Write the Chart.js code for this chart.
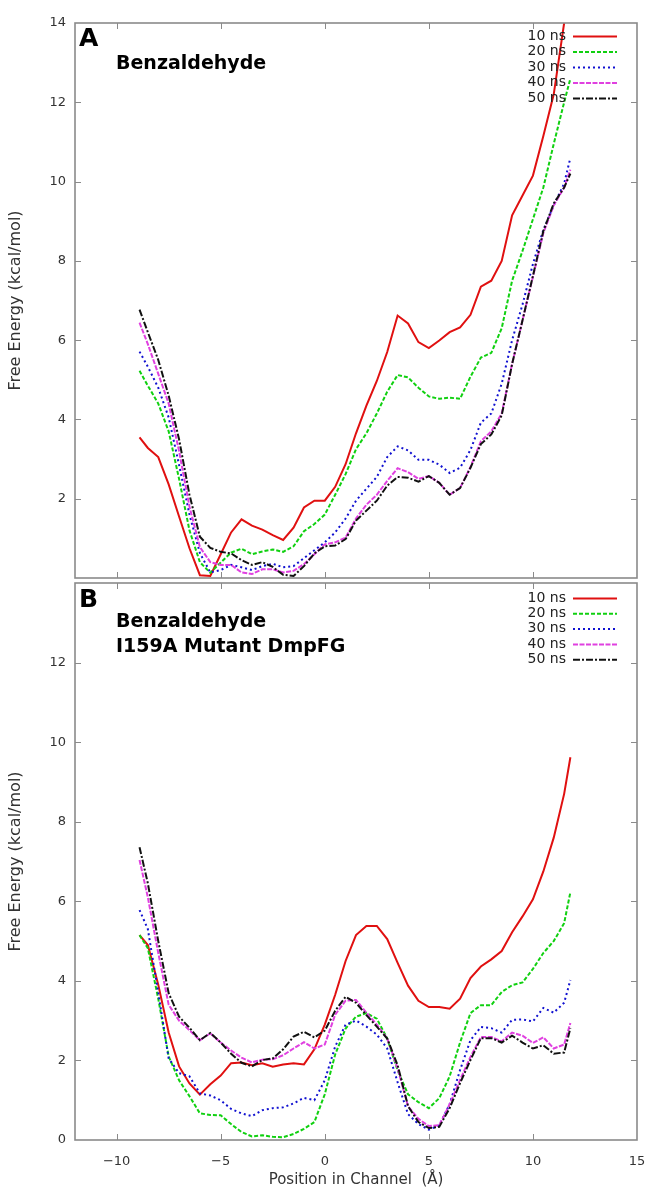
<!DOCTYPE html>
<html><head><meta charset="utf-8">
<script src="https://cdn.jsdelivr.net/npm/chart.js@4.4.1/dist/chart.umd.min.js"></script>
<style>
html,body{margin:0;padding:0;background:#fff;}
#wrap{position:relative;width:649px;height:1190px;overflow:hidden;}
canvas{position:absolute;left:0;}
</style></head><body>
<div id="wrap">
<canvas id="cA" width="649" height="580" style="top:0;width:649px;height:580px"></canvas>
<canvas id="cB" width="649" height="610" style="top:580px;width:649px;height:610px"></canvas>
</div>
<script>
// ---- data ----
const positions = [-8.9,-8.5,-8,-7.5,-7,-6.5,-6,-5.5,-5,-4.5,-4,-3.5,-3,-2.5,-2,-1.5,-1,-0.5,
  0,0.5,1,1.5,2,2.5,3,3.5,4,4.5,5,5.5,6,6.5,7,7.5,8,8.5,9,9.5,10,10.5,11,11.5,11.8];
const seriesLabels = ['10 ns','20 ns','30 ns','40 ns','50 ns'];
const xTickValues = [-10,-5,0,5,10,15];
const yTickValues = [0,2,4,6,8,10,12,14];

// Panel A: Benzaldehyde (wild type)
const wt10 = [3.55,3.28,3.05,2.36,1.55,0.75,0.07,0.05,0.6,1.15,1.48,1.32,1.22,1.08,0.96,1.27,1.78,1.95,
  1.95,2.3,2.87,3.65,4.35,4.97,5.7,6.62,6.42,5.95,5.8,5.99,6.2,6.32,6.64,7.35,7.5,8.0,9.15,9.65,10.15,11.15,12.2,14.0,15.3];
const wt20 = [5.23,4.85,4.4,3.7,2.5,1.2,0.4,0.13,0.39,0.64,0.74,0.6,0.67,0.72,0.66,0.8,1.18,1.36,
  1.6,2.1,2.62,3.25,3.65,4.15,4.7,5.12,5.06,4.8,4.58,4.52,4.55,4.52,5.08,5.56,5.68,6.3,7.5,8.25,9.05,9.85,10.95,12.0,12.6];
const wt30 = [5.71,5.33,4.8,4.05,2.85,1.6,0.63,0.14,0.2,0.33,0.27,0.2,0.3,0.36,0.27,0.3,0.5,0.7,
  0.9,1.15,1.5,1.95,2.25,2.55,3.05,3.32,3.22,2.98,2.98,2.86,2.65,2.78,3.23,3.92,4.15,4.9,6.0,6.9,7.92,8.78,9.4,9.95,10.6];
const wt40 = [6.44,5.9,5.15,4.4,3.2,1.8,0.78,0.4,0.33,0.33,0.14,0.1,0.22,0.22,0.14,0.18,0.35,0.6,
  0.85,0.9,1.02,1.5,1.85,2.1,2.45,2.77,2.67,2.5,2.57,2.4,2.1,2.27,2.8,3.45,3.7,4.15,5.4,6.5,7.6,8.7,9.4,9.85,10.3];
const wt50 = [6.77,6.2,5.5,4.6,3.5,2.1,1.04,0.76,0.66,0.62,0.45,0.33,0.4,0.28,0.08,0.05,0.3,0.62,
  0.8,0.82,0.98,1.45,1.7,1.95,2.33,2.55,2.53,2.43,2.57,2.4,2.1,2.27,2.78,3.38,3.62,4.1,5.4,6.5,7.62,8.75,9.45,9.85,10.2];

// Panel B: Benzaldehyde, I159A mutant DmpFG
const mu10 = [5.15,4.9,3.9,2.7,1.85,1.42,1.14,1.4,1.62,1.93,1.95,1.88,1.93,1.84,1.9,1.93,1.9,2.28,
  2.9,3.65,4.5,5.15,5.38,5.38,5.05,4.45,3.88,3.5,3.34,3.34,3.3,3.55,4.07,4.36,4.54,4.75,5.22,5.62,6.05,6.75,7.6,8.7,9.62];
const mu20 = [5.15,4.82,3.55,2.1,1.5,1.1,0.67,0.63,0.62,0.4,0.2,0.09,0.12,0.08,0.07,0.15,0.28,0.45,
  1.15,2.15,2.8,3.1,3.19,3.05,2.55,1.75,1.15,0.95,0.8,1.05,1.6,2.45,3.19,3.39,3.39,3.72,3.89,3.96,4.3,4.7,5.0,5.45,6.23];
const mu30 = [5.78,5.3,3.7,2.05,1.68,1.6,1.17,1.12,1.0,0.78,0.67,0.6,0.75,0.8,0.82,0.92,1.06,1.0,
  1.5,2.35,2.9,3.0,2.85,2.65,2.3,1.45,0.65,0.4,0.26,0.37,0.9,1.76,2.51,2.84,2.81,2.7,3.02,3.03,2.98,3.32,3.2,3.45,4.02];
const mu40 = [7.04,6.1,4.7,3.4,3.0,2.76,2.51,2.68,2.45,2.25,2.07,1.95,2.02,2.03,2.13,2.3,2.46,2.3,
  2.4,3.15,3.5,3.52,3.2,2.9,2.55,1.8,0.85,0.53,0.35,0.37,0.9,1.51,2.09,2.59,2.59,2.48,2.7,2.62,2.44,2.58,2.3,2.4,2.94];
const mu50 = [7.36,6.45,5.0,3.69,3.1,2.82,2.51,2.69,2.45,2.17,1.94,1.85,2.01,2.05,2.28,2.6,2.72,2.58,
  2.75,3.25,3.6,3.45,3.14,2.85,2.55,1.88,0.85,0.45,0.3,0.33,0.8,1.43,2.01,2.56,2.56,2.45,2.62,2.45,2.3,2.38,2.17,2.2,2.81];

// ---- styles ----
const lineStyles = [
  {color:'#e01010', dash:[]},
  {color:'#10d010', dash:[4,2]},
  {color:'#1010d0', dash:[2,3]},
  {color:'#e040e0', dash:[5,1.5]},
  {color:'#111111', dash:[7,2,2,2]}
];

const SANS = "'DejaVu Sans', 'Liberation Sans', sans-serif";
Chart.defaults.font.family = SANS;
Chart.defaults.font.size = 13;
Chart.defaults.color = '#333';

const framePlugin = {
  id: 'frame',
  afterDatasetsDraw(chart, args, opts) {
    const {ctx, chartArea: a, scales: {x, y}} = chart;
    ctx.save();
    ctx.setLineDash([]);
    ctx.strokeStyle = '#8a8a8a';
    ctx.lineWidth = 1;
    ctx.beginPath();
    x.ticks.forEach(t => {
      const px = Math.round(x.getPixelForValue(t.value)) + 0.5;
      if (px <= a.left + 2 || px >= a.right - 2) return;
      ctx.moveTo(px, a.bottom); ctx.lineTo(px, a.bottom - 6);
      ctx.moveTo(px, a.top); ctx.lineTo(px, a.top + 6);
    });
    y.ticks.forEach(t => {
      const py = Math.round(y.getPixelForValue(t.value)) + 0.5;
      if (py <= a.top + 2 || py >= a.bottom - 2) return;
      ctx.moveTo(a.left, py); ctx.lineTo(a.left + 6, py);
      ctx.moveTo(a.right, py); ctx.lineTo(a.right - 6, py);
    });
    ctx.stroke();
    ctx.lineWidth = 1.6;
    ctx.strokeRect(a.left, a.top, a.right - a.left, a.bottom - a.top);

    // annotations
    ctx.fillStyle = '#000';
    ctx.textAlign = 'left';
    ctx.textBaseline = 'alphabetic';
    (opts.labels || []).forEach(l => {
      ctx.font = l.font;
      ctx.fillText(l.text, l.x, l.y);
    });

    // legend
    ctx.font = "14px " + SANS;
    ctx.textAlign = 'right';
    ctx.textBaseline = 'middle';
    chart.data.datasets.forEach((ds, i) => {
      const yy = opts.legendY + i * opts.legendDy;
      ctx.fillStyle = '#222';
      ctx.fillText(ds.label, opts.legendTextX, yy);
      ctx.strokeStyle = ds.borderColor;
      ctx.lineWidth = 2;
      ctx.setLineDash(ds.borderDash || []);
      ctx.beginPath();
      ctx.moveTo(opts.legendLineX0, yy + 0.5);
      ctx.lineTo(opts.legendLineX1, yy + 0.5);
      ctx.stroke();
    });
    ctx.restore();
  }
};

function makePanel(canvasId, series, cfg) {
  const datasets = series.map((vals, i) => ({
    label: seriesLabels[i],
    data: positions.map((p, k) => ({x: p, y: vals[k]})),
    borderColor: lineStyles[i].color,
    borderDash: lineStyles[i].dash,
    borderWidth: 2,
    pointRadius: 0,
    tension: 0,
    fill: false,
    order: series.length - 1 - i   // later series drawn on top
  }));
  return new Chart(document.getElementById(canvasId), {
    type: 'line',
    data: {datasets},
    options: {
      responsive: false,
      animation: false,
      events: [],
      layout: {padding: cfg.padding},
      plugins: {
        legend: {display: false},
        tooltip: {enabled: false},
        frame: cfg.frame
      },
      scales: {
        x: {
          type: 'linear',
          min: -12, max: 15,
          afterBuildTicks: s => { s.ticks = xTickValues.map(v => ({value: v})); },
          afterFit: s => { s.height = cfg.xHeight; s.paddingLeft = 0; s.paddingRight = 0; },
          grid: {display: false, drawTicks: false},
          border: {display: false},
          ticks: {display: cfg.showX, maxRotation: 0, autoSkip: false, padding: 14,
                  callback: v => String(v).replace('-', '\u2212')},
          title: {display: cfg.showX, text: 'Position in Channel  (\u00C5)', padding: {top: 0, bottom: 1},
                  font: {size: 15}}
        },
        y: {
          type: 'linear',
          min: 0, max: 14,
          afterBuildTicks: s => { s.ticks = yTickValues.map(v => ({value: v})); },
          afterFit: s => { s.width = 75; s.paddingTop = 0; s.paddingBottom = 0; },
          grid: {display: false, drawTicks: false},
          border: {display: false},
          ticks: {padding: 9, callback: v => (v === cfg.hideY ? '' : String(v))},
          title: {display: true, text: 'Free Energy (kcal/mol)', padding: {top: 6, bottom: 0},
                  font: {size: 16}}
        }
      }
    },
    plugins: [framePlugin]
  });
}

const boldFont = sz => "bold " + sz + "px 'DejaVu Sans', sans-serif";

makePanel('cA', [wt10, wt20, wt30, wt40, wt50], {
  padding: {top: 23, right: 12, bottom: 2, left: 0},
  xHeight: 0, showX: false, hideY: 0,
  frame: {
    labels: [
      {text: 'A', x: 79, y: 46, font: boldFont(25)},
      {text: 'Benzaldehyde', x: 116, y: 69, font: boldFont(19)}
    ],
    legendY: 36, legendDy: 15.5, legendTextX: 566, legendLineX0: 573, legendLineX1: 617
  }
});

makePanel('cB', [mu10, mu20, mu30, mu40, mu50], {
  padding: {top: 3, right: 12, bottom: 0, left: 0},
  xHeight: 50, showX: true, hideY: 14,
  frame: {
    labels: [
      {text: 'B', x: 79, y: 27, font: boldFont(25)},
      {text: 'Benzaldehyde', x: 116, y: 47, font: boldFont(19)},
      {text: 'I159A Mutant DmpFG', x: 116, y: 72, font: boldFont(19)}
    ],
    legendY: 18, legendDy: 15.3, legendTextX: 566, legendLineX0: 573, legendLineX1: 617
  }
});
</script>
</body></html>
